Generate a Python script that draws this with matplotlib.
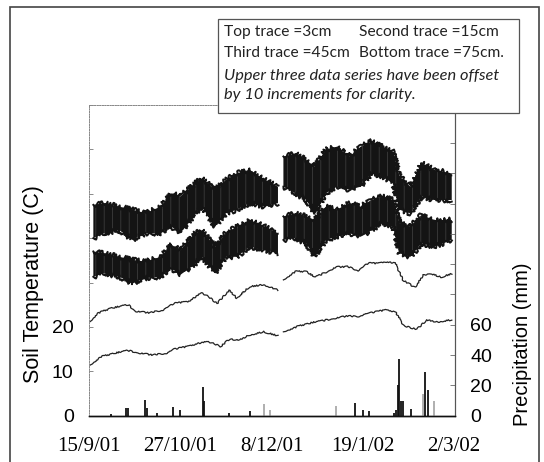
import numpy as np
import matplotlib.pyplot as plt
from matplotlib.patches import Rectangle

# x positions are days after 15/9/01
tick_days = [0, 42, 84, 126, 168]
tick_labels = ['15/9/01', '27/10/01', '8/12/01', '19/1/02', '2/3/02']
gap_day = 88  # short logger gap in early december

# 3cm and 15cm traces swing a lot each day -> kept as upper/lower envelope
band_days = np.array([2, 7, 14, 20, 26, 33, 38, 42, 49, 52, 58, 63, 68, 74, 81, 87,
                      89.5, 95, 100, 104, 109, 114, 120, 125, 130, 135, 140, 143, 148, 153, 159, 167])
t3_hi = np.array([47.5, 47.9, 47.1, 46.4, 45.6, 47.1, 50.1, 49.4, 52.4, 53.5, 50.9, 53.1, 54.6, 55.4, 53.1, 51.6,
                  58.4, 59.1, 57.6, 56.1, 59.9, 60.6, 58.4, 60.6, 61.8, 60.6, 59.5, 53.9, 51.6, 56.9, 55.4, 54.6])
t3_lo = np.array([40.0, 41.1, 41.8, 39.6, 41.1, 41.1, 42.6, 41.1, 45.6, 47.1, 42.6, 45.6, 46.4, 47.9, 47.1, 47.9,
                  51.6, 50.1, 48.6, 45.6, 50.1, 51.6, 50.9, 51.6, 54.6, 53.9, 52.4, 46.4, 45.6, 49.4, 48.6, 48.6])
t15_hi = np.array([37.0, 36.6, 35.8, 35.1, 34.7, 35.8, 38.5, 37.3, 41.1, 41.8, 38.1, 41.1, 42.6, 44.1, 42.6, 41.1,
                   44.9, 45.6, 44.9, 44.1, 47.1, 46.4, 47.9, 47.1, 48.6, 49.4, 48.6, 43.4, 42.6, 45.2, 44.1, 44.1])
t15_lo = np.array([31.3, 32.1, 31.3, 29.8, 31.0, 31.3, 33.2, 31.7, 34.3, 35.8, 32.1, 35.8, 35.8, 38.1, 37.3, 36.6,
                   39.6, 40.0, 38.8, 35.8, 39.6, 40.3, 41.1, 40.3, 41.8, 43.4, 42.6, 36.6, 35.8, 38.8, 38.1, 39.6])

# 45cm trace (already offset by 10 in the original figure)
t45_days = np.array([0.5, 4, 10, 18, 21.5, 28, 34, 39, 45.5, 52, 55, 59, 64.5, 68, 74, 80.5, 87,
                     89.5, 95, 100, 104, 109, 114, 119, 124, 128.5, 133, 136.5, 141, 144.5, 150, 154, 157, 162, 167])
t45 = np.array([21.2, 23.1, 24.2, 25.0, 23.5, 23.2, 23.8, 25.3, 25.7, 27.7, 26.8, 25.3, 28.3, 26.5, 29.1, 29.5, 28.3,
                30.6, 32.5, 32.5, 31.2, 32.3, 33.5, 33.6, 32.7, 34.4, 34.3, 34.7, 34.4, 30.6, 28.9, 31.7, 32.1, 31.2, 32.0])

# 75cm trace
t75_days = np.array([0.5, 5.5, 12, 18, 23, 29.5, 36, 39, 45.5, 50, 55, 60.5, 64.5, 69.5, 74, 80.5, 87,
                     89.5, 96.5, 103, 107.5, 114, 119, 123.5, 128.5, 133, 136.5, 141, 145, 151, 155.5, 160, 167])
t75 = np.array([11.4, 13.3, 14.1, 14.7, 14.1, 13.7, 14.1, 15.0, 15.6, 16.3, 16.7, 15.6, 17.2, 17.1, 18.2, 18.9, 18.0,
                18.9, 20.2, 21.0, 21.4, 22.0, 22.5, 22.3, 23.1, 23.5, 23.8, 23.5, 20.2, 19.5, 21.6, 21.1, 21.6])

# daily rainfall (mm), two gauges
rain_days = [10, 17, 18, 26, 26.6, 31.4, 38.8, 42, 52.5, 53.1, 64.3, 73.9, 122.5, 126, 128.7,
             140.4, 141.2, 142.3, 142.8, 143.6, 144.4, 148.4, 154.9, 156]
rain = [1, 5, 5, 10.5, 5, 2, 5.5, 4, 19, 10, 1.5, 3, 8.5, 4, 3, 2, 4, 20, 37.7, 10, 9.5, 4.3, 29, 17]
rain2_days = [80.6, 83.4, 113.7, 153.6, 158.7]
rain2 = [8, 4, 6.5, 14, 9.5]

plt.rcParams['hatch.color'] = '#444444'
plt.rcParams['hatch.linewidth'] = 0.5

fig = plt.figure(figsize=(5.44, 4.62), dpi=100)
ax = fig.add_axes([0.1636, 0.1002, 0.6728, 0.6725])
ax2 = ax.twinx()

first = band_days < gap_day
second = band_days > gap_day
for hi, lo in [(t3_hi, t3_lo), (t15_hi, t15_lo)]:
    for m in (first, second):
        ax.fill_between(band_days[m], lo[m], hi[m], facecolor='#141414', edgecolor='#444444',
                        hatch='||', linewidth=0)
        for edge in (hi, lo):
            ln, = ax.plot(band_days[m], edge[m], color='#141414', lw=1.4)
            ln.set_sketch_params(scale=2.5, length=1.5, randomness=6)

for d, t in [(t45_days, t45), (t75_days, t75)]:
    for m in (d < gap_day, d > gap_day):
        ln, = ax.plot(d[m], t[m], color='#222', lw=0.9)
        ln.set_sketch_params(scale=0.7, length=3, randomness=8)

ax2.vlines(rain_days, 0, rain, color='#111', lw=1.3)
ax2.vlines(rain2_days, 0, rain2, color='#9a9a9a', lw=1.1)

ax.set_xlim(0, 168.5)
ax.set_ylim(0, 70)
ax2.set_ylim(0, 205)

ax.set_yticks(range(0, 71, 10))
ax.set_yticklabels(['0', '10', '20', '', '', '', '', ''])
ax2.set_yticks(range(0, 201, 20))
ax2.set_yticklabels(['0', '20', '40', '60'] + [''] * 7)
ax.set_xticks(tick_days)
ax.set_xticklabels(tick_labels, family='Liberation Serif', fontsize=15)

ax.tick_params(axis='x', length=0, pad=15)
ax.tick_params(axis='y', direction='in', length=3, width=0.6, color='#777', labelsize=14, pad=11)
ax2.tick_params(axis='y', direction='in', length=3.5, width=0.6, color='#666', labelsize=14, pad=11)
for lab in ax.get_yticklabels() + ax2.get_yticklabels():
    lab.set_family('Liberation Sans')

for a in (ax, ax2):
    a.spines['left'].set_linestyle(':')
    a.spines['left'].set_color('#888')
    a.spines['left'].set_linewidth(0.7)
    a.spines['top'].set_linestyle(':')
    a.spines['top'].set_color('#888')
    a.spines['top'].set_linewidth(0.7)
    a.spines['right'].set_color('#555')
    a.spines['right'].set_linewidth(0.8)
    a.spines['bottom'].set_color('#111')
    a.spines['bottom'].set_linewidth(1.0)

fig.text(0.061, 0.385, 'Soil Temperature (C)', rotation=90, ha='center', va='center',
         family='Liberation Sans', fontsize=15.5)
fig.text(0.96, 0.255, 'Precipitation (mm)', rotation=90, ha='center', va='center',
         family='Liberation Sans', fontsize=14.5)

# outer frame and the note box
fig.patches.append(Rectangle((9.5 / 544, -0.05), (539 - 9.5) / 544, 1.05 - 7.3 / 462,
                             transform=fig.transFigure, fill=False, edgecolor='#444', lw=1.2))
fig.patches.append(Rectangle((218 / 544, 1 - 113 / 462), (519 - 218) / 544, (113 - 19.5) / 462,
                             transform=fig.transFigure, facecolor='white', edgecolor='#555', lw=0.9, zorder=2))
note = dict(family='Lato', fontsize=11.2, va='center', color='#222', zorder=3)
fig.text(224 / 544, 1 - 31.7 / 462, 'Top trace =3cm', **note)
fig.text(359 / 544, 1 - 31.7 / 462, 'Second trace =15cm', **note)
fig.text(224 / 544, 1 - 53.3 / 462, 'Third trace =45cm', **note)
fig.text(359 / 544, 1 - 53.3 / 462, 'Bottom trace =75cm.', **note)
note['fontsize'] = 11.8
fig.text(224 / 544, 1 - 76 / 462, 'Upper three data series have been offset', style='italic', **note)
fig.text(224 / 544, 1 - 95 / 462, 'by 10 increments for clarity.', style='italic', **note)

fig.savefig('out.png', dpi=100)
